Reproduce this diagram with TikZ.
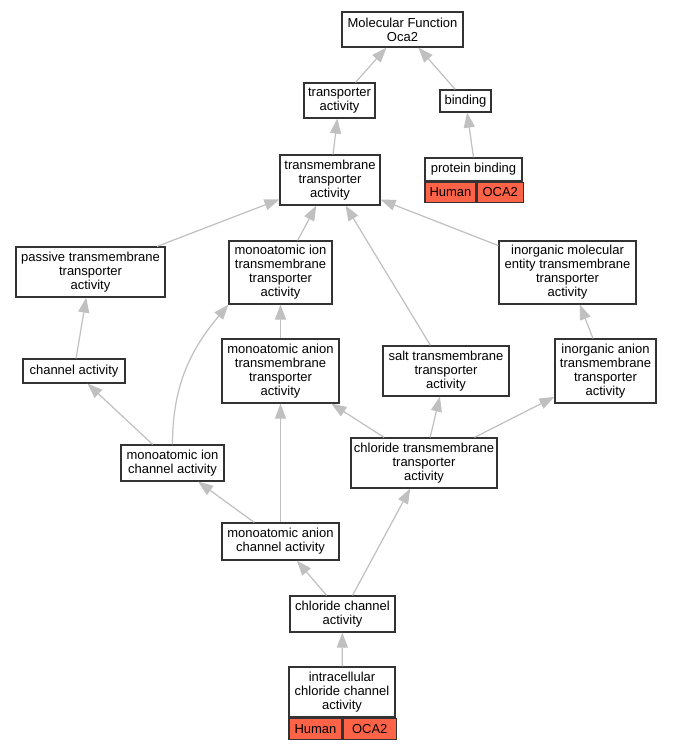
\documentclass[tikz,border=0pt]{standalone}
\usepackage{fontspec}
\setmainfont{Liberation Sans}
\usepackage{xcolor}
\usepackage{tikz}
\usetikzlibrary{arrows.meta,positioning}
\definecolor{GoRed}{HTML}{FF6347}
\definecolor{GoEdge}{HTML}{C0C0C0}
\definecolor{GoDark}{HTML}{333333}
\newcommand{\termfont}{\fontsize{13}{14}\selectfont}
\tikzset{
  termbox/.style={draw=GoDark,line width=1.2pt,fill=white,align=center,inner sep=0pt,font=\termfont},
  genecell/.style={termbox,fill=GoRed,anchor=north west},
  isaarrow/.style={-{Triangle[length=15pt,width=11pt]},line width=1.2pt,draw=GoEdge}
}
\begin{document}
\begin{tikzpicture}[x=1pt,y=-1pt]
\useasboundingbox[fill=white] (0,0) rectangle (672,749);
% terms
\node[termbox,minimum width=121pt,minimum height=35pt] (mf) at (402.5,29.5) {Molecular Function\\Oca2};
\node[termbox,minimum width=71pt,minimum height=35pt] (ta) at (339.5,100.5) {transporter\\activity};
\node[termbox,minimum width=51pt,minimum height=22pt] (bind) at (465.5,101) {binding};
\node[termbox,minimum width=97pt,minimum height=23pt] (pbind) at (473.5,169.5) {protein binding};
\node[genecell,minimum width=51pt,minimum height=20pt] (pbhuman) at (pbind.south west) {Human};
\node[genecell,minimum width=46pt,minimum height=20pt] (pboca) at (pbhuman.north east) {OCA2};
\node[termbox,minimum width=100pt,minimum height=50pt] (tmta) at (330,180) {transmembrane\\transporter\\activity};
\node[termbox,minimum width=149pt,minimum height=50pt] (passive) at (90.5,272) {passive transmembrane\\transporter\\activity};
\node[termbox,minimum width=103pt,minimum height=63pt] (mitt) at (280.5,272.5) {monoatomic ion\\transmembrane\\transporter\\activity};
\node[termbox,minimum width=137pt,minimum height=63pt] (imett) at (567.5,272.5) {inorganic molecular\\entity transmembrane\\transporter\\activity};
\node[termbox,minimum width=102pt,minimum height=24pt] (chan) at (74,371) {channel activity};
\node[termbox,minimum width=117pt,minimum height=64pt] (matt) at (280.5,371) {monoatomic anion\\transmembrane\\transporter\\activity};
\node[termbox,minimum width=126pt,minimum height=50pt] (salt) at (446,371) {salt transmembrane\\transporter\\activity};
\node[termbox,minimum width=101pt,minimum height=64pt] (iatt) at (605.5,371) {inorganic anion\\transmembrane\\transporter\\activity};
\node[termbox,minimum width=103pt,minimum height=36pt] (mich) at (172.5,463) {monoatomic ion\\channel activity};
\node[termbox,minimum width=146pt,minimum height=50pt] (cltt) at (424,463) {chloride transmembrane\\transporter\\activity};
\node[termbox,minimum width=117pt,minimum height=37pt] (mach) at (280.5,541.5) {monoatomic anion\\channel activity};
\node[termbox,minimum width=105pt,minimum height=36pt] (clch) at (342.5,614) {chloride channel\\activity};
\node[termbox,minimum width=106pt,minimum height=50pt] (icc) at (342,692) {intracellular\\chloride channel\\activity};
\node[genecell,minimum width=53pt,minimum height=21pt] (icchuman) at (icc.south west) {Human};
\node[genecell,minimum width=53pt,minimum height=21pt] (iccoca) at (icchuman.north east) {OCA2};
% is_a links
\draw[isaarrow] (ta) -- (mf);
\draw[isaarrow] (bind) -- (mf);
\draw[isaarrow] (tmta) -- (ta);
\draw[isaarrow] (pbind.north) -- (bind);
\draw[isaarrow] (passive) -- (tmta);
\draw[isaarrow] (mitt) -- (tmta);
\draw[isaarrow] (salt) -- (tmta);
\draw[isaarrow] (imett) -- (tmta);
\draw[isaarrow] (chan) -- (passive);
\draw[isaarrow] (matt) -- (mitt);
\draw[isaarrow] (iatt) -- (imett);
\draw[isaarrow] (mich) -- (chan);
\draw[isaarrow] (mich.north) to[out=90,in=-130] (mitt.south west);
\draw[isaarrow] (cltt) -- (matt);
\draw[isaarrow] (cltt) -- (salt);
\draw[isaarrow] (cltt) -- (iatt);
\draw[isaarrow] (mach) -- (mich);
\draw[isaarrow] (mach) -- (matt);
\draw[isaarrow] (clch) -- (mach);
\draw[isaarrow] (clch) -- (cltt);
\draw[isaarrow] (icc) -- (clch);
\end{tikzpicture}
\end{document}
